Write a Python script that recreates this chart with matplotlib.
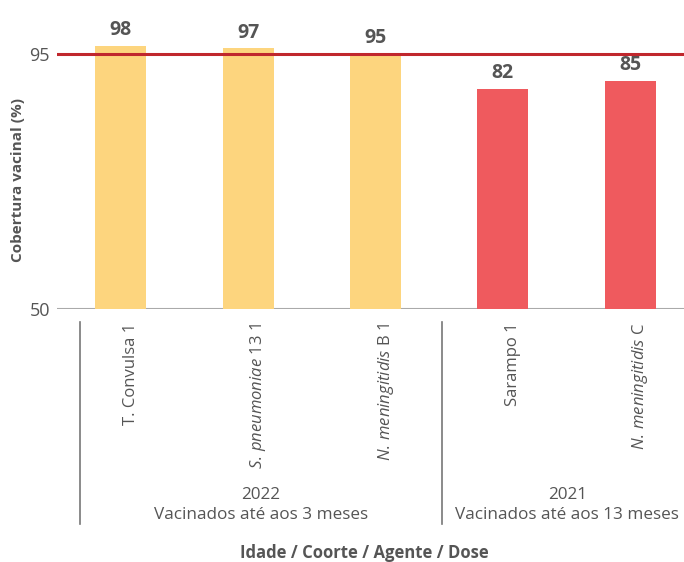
import matplotlib
matplotlib.use("Agg")
import matplotlib.pyplot as plt

plt.rcParams['font.family'] = ['Open Sans', 'DejaVu Sans']
plt.rcParams['mathtext.fontset'] = 'custom'
plt.rcParams['mathtext.rm'] = 'Open Sans'
plt.rcParams['mathtext.it'] = 'Open Sans:italic'

categories = ["T. Convulsa 1",
              r"$\mathit{S.\,pneumoniae}$ 13 1",
              r"$\mathit{N.\,meningitidis}$ B 1",
              "Sarampo 1",
              r"$\mathit{N.\,meningitidis}$ C"]
values = [98, 97, 95, 82, 85]
groups = ["2022\nVacinados até aos 3 meses", "2021\nVacinados até aos 13 meses"]
group_of = [0, 0, 0, 1, 1]
target = 95
ytick_pos = [0, 95]
ytick_labels = ["50", "95"]

W, H = 684, 562
fig = plt.figure(figsize=(W / 100, H / 100), dpi=100)
ax = fig.add_axes([57 / W, 1 - 309 / H, 637 / W, 309 / H])

colors = ["#FDD57E" if g == 0 else "#EF5A5E" for g in group_of]
x = list(range(len(values)))
ax.bar(x, values, width=0.4, color=colors, zorder=2)
for xi, v in zip(x, values):
    ax.annotate(str(v), xy=(xi, v), xytext=(0, 4), textcoords='offset points',
                ha='center', va='bottom', fontsize=14,
                fontweight='bold', color='#555555')

ax.axhline(target, color='#C0272D', lw=2.2, zorder=3)
ax.axhline(0, color='#AAAAAA', lw=1.5, zorder=1)

ax.set_xlim(-0.5, 4.5)
ax.set_ylim(0, 115)
ax.set_yticks(ytick_pos)
ax.set_yticklabels(ytick_labels, fontsize=13, color='#555555')
ax.tick_params(axis='y', length=0, pad=5)
ax.set_xticks([])
for s in ax.spines.values():
    s.set_visible(False)

# category labels
for xi, c in zip(x, categories):
    ax.annotate(c, xy=(xi + 0.08, 0), xycoords=('data', 'axes fraction'),
                xytext=(0, -10), textcoords='offset points',
                rotation=90, ha='center', va='top', fontsize=12,
                color='#555555', annotation_clip=False)

# group separators and labels
trans = ax.get_xaxis_transform()
for xs in [-0.318, 2.52]:
    ax.plot([xs, xs], [-13 / 309, -215 / 309], transform=trans,
            color='#777777', lw=1.2, clip_on=False)
ax.text(1.098, -178 / 309, groups[0], transform=trans, ha='center', va='top',
        fontsize=12.3, color='#555555', linespacing=1.3)
ax.text(3.506, -178 / 309, groups[1], transform=trans, ha='center', va='top',
        fontsize=12.3, color='#555555', linespacing=1.3)

fig.text(18 / W, 1 - 180 / H, "Cobertura vacinal (%)", rotation=90,
         ha='center', va='center', fontsize=11, fontweight='bold',
         color='#555555')
fig.text(364 / W, 1 - 553 / H, "Idade / Coorte / Agente / Dose",
         ha='center', va='center', fontsize=12, fontweight='bold',
         color='#555555')

fig.savefig("out.png", dpi=100)
